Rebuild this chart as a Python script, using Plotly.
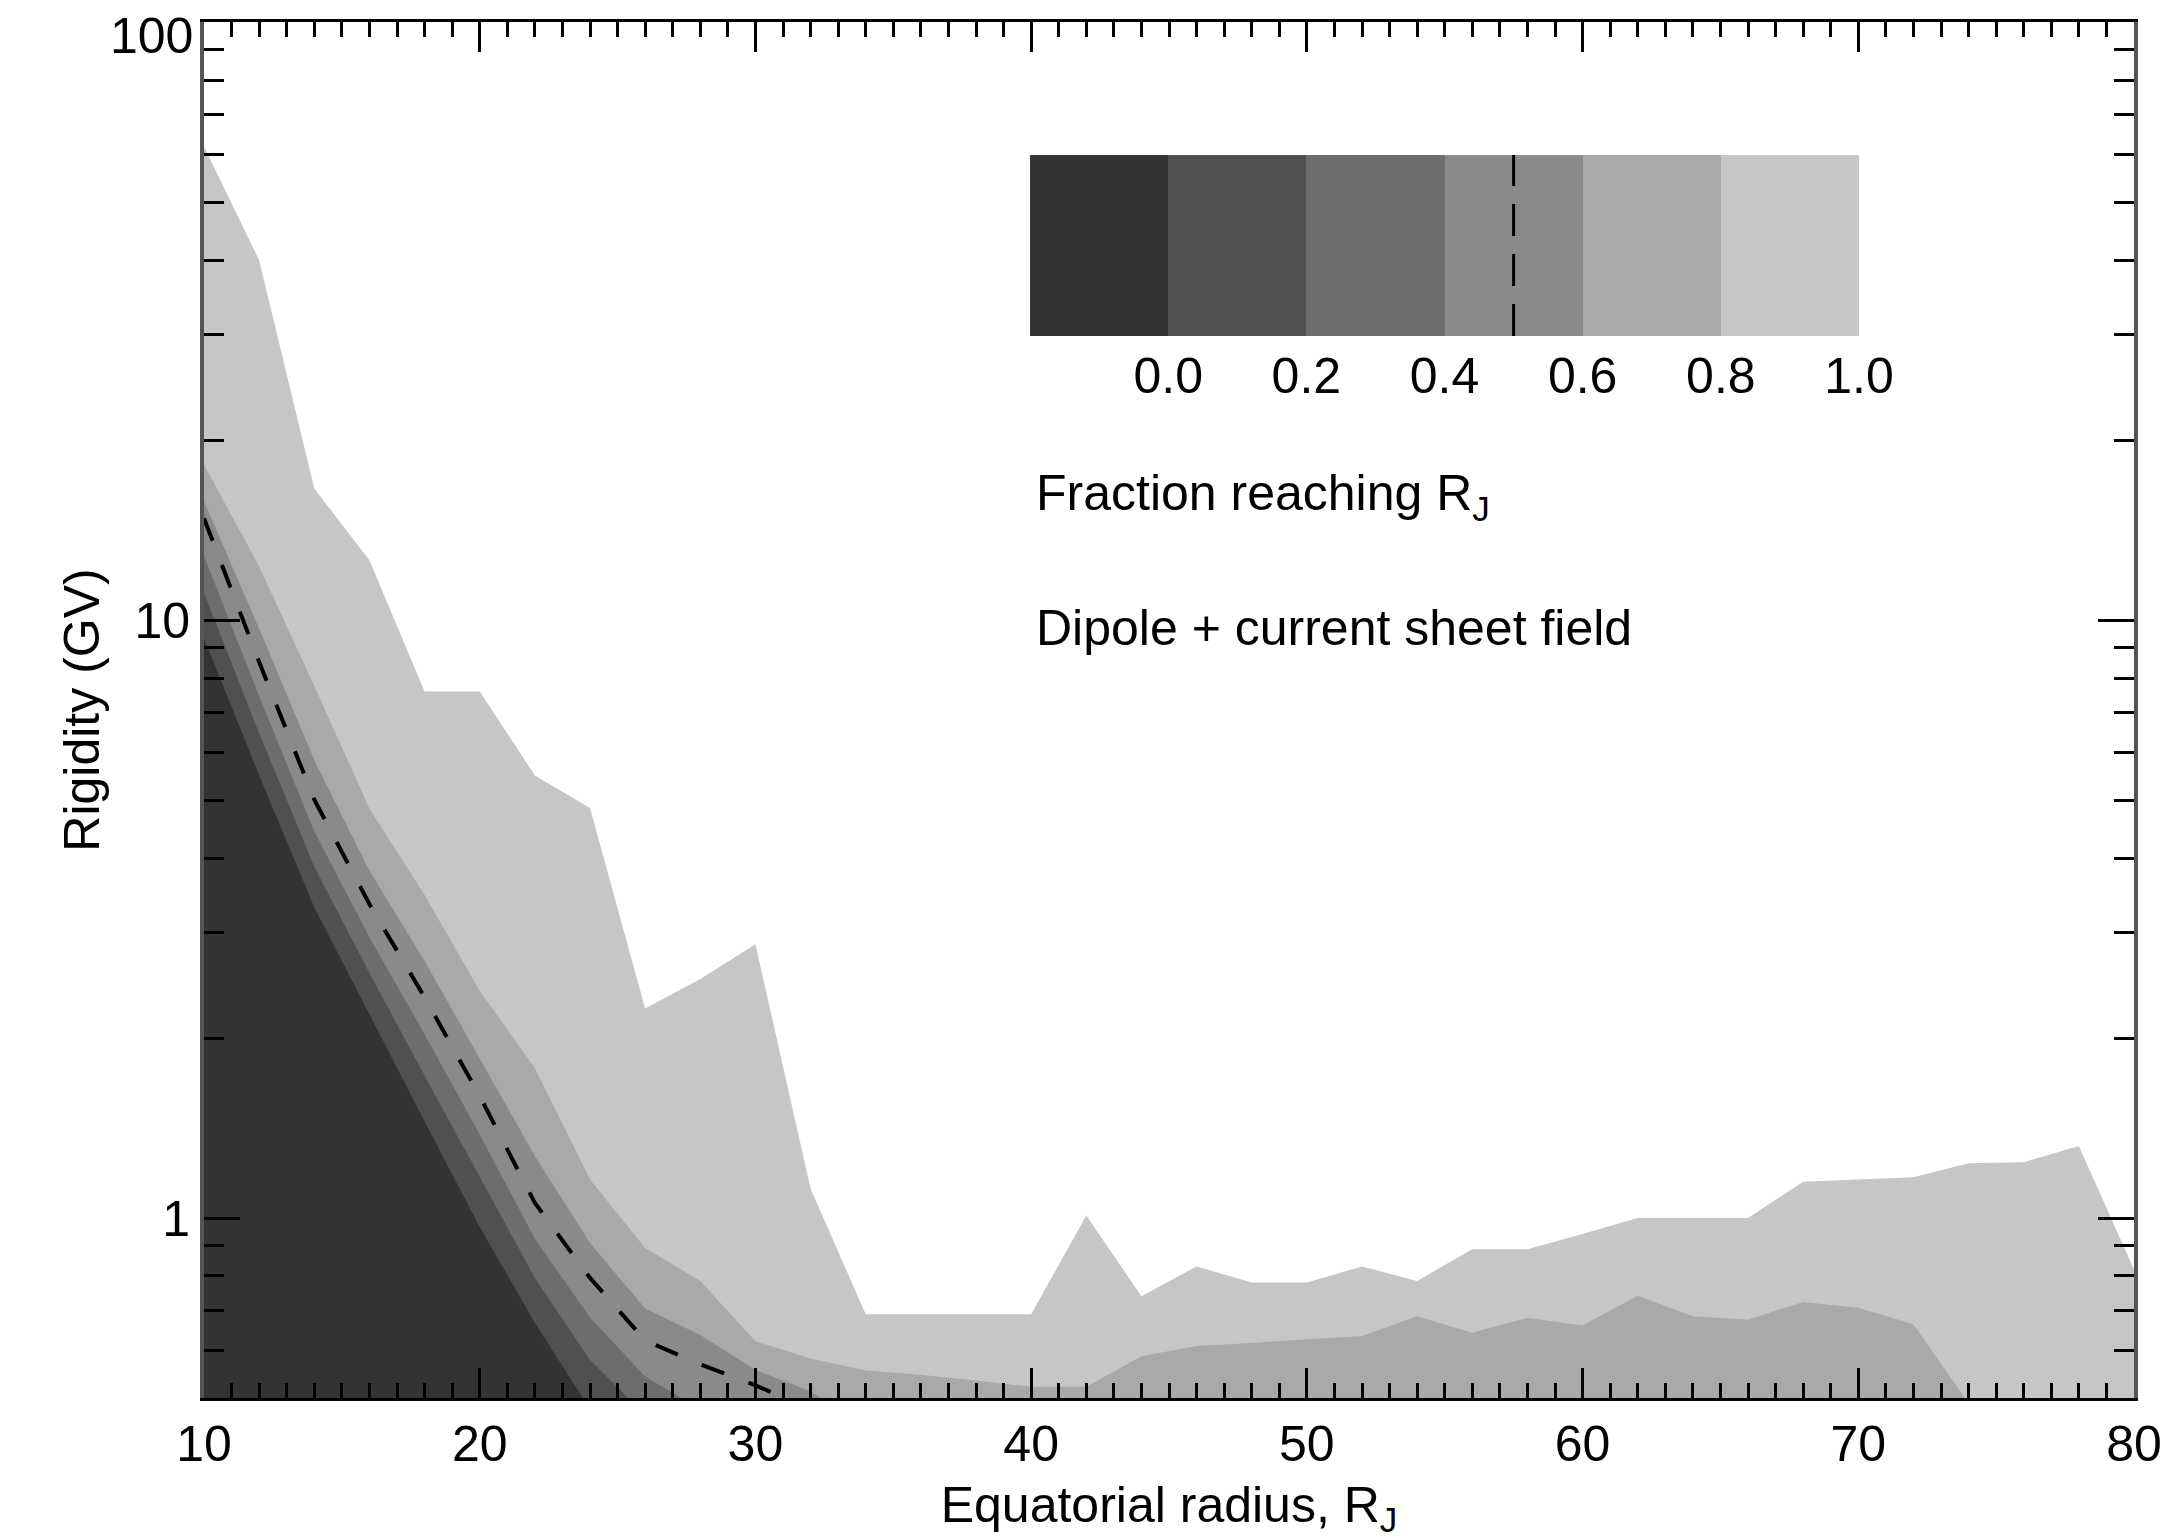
import math
import plotly.graph_objects as go

# ---------------- data ----------------
radius = [10, 12, 14, 16, 18, 20, 22, 24, 26, 28, 30, 32, 34, 36, 38, 40, 42, 44,
          46, 48, 50, 52, 54, 56, 58, 60, 62, 64, 66, 68, 70, 72, 74, 76, 78, 80]

# rigidity (GV) at which the fraction reaching R_J crosses each contour level
edge_100 = [62, 40, 16.6, 12.6, 7.6, 7.6, 5.5, 4.85, 2.24, 2.51, 2.87, 1.12, 0.69, 0.69,
            0.69, 0.69, 1.01, 0.74, 0.83, 0.78, 0.78, 0.83, 0.785, 0.887, 0.887, 0.94,
            1.0, 1.0, 1.0, 1.15, 1.16, 1.17, 1.235, 1.24, 1.32, 0.82]
edge_080 = [18.2, 12.3, 7.76, 4.84, 3.47, 2.40, 1.78, 1.16, 0.891, 0.785, 0.622, 0.582,
            0.556, 0.547, 0.535, 0.522, 0.522, 0.587, 0.611, 0.618, 0.627, 0.635, 0.685,
            0.643, 0.681, 0.661, 0.741, 0.685, 0.676, 0.724, 0.708, 0.664, 0.49, 0.45,
            0.45, 0.45]
edge_060 = [15.8, 9.68, 5.83, 3.81, 2.69, 1.85, 1.27, 0.908, 0.706, 0.637, 0.557, 0.513,
            0.447, 0.4, 0.4, 0.4, 0.4, 0.4, 0.4, 0.4, 0.4, 0.4, 0.4, 0.4, 0.4, 0.4, 0.4,
            0.4, 0.4, 0.4, 0.4, 0.4, 0.4, 0.4, 0.4, 0.4]
edge_040 = [12.8, 7.46, 4.43, 2.95, 2.03, 1.38, 0.923, 0.682, 0.543, 0.479, 0.4, 0.4,
            0.4, 0.4, 0.4, 0.4, 0.4, 0.4, 0.4, 0.4, 0.4, 0.4, 0.4, 0.4, 0.4, 0.4, 0.4,
            0.4, 0.4, 0.4, 0.4, 0.4, 0.4, 0.4, 0.4, 0.4]
edge_020 = [11.1, 6.47, 3.87, 2.57, 1.73, 1.17, 0.794, 0.579, 0.468, 0.4, 0.4, 0.4,
            0.4, 0.4, 0.4, 0.4, 0.4, 0.4, 0.4, 0.4, 0.4, 0.4, 0.4, 0.4, 0.4, 0.4, 0.4,
            0.4, 0.4, 0.4, 0.4, 0.4, 0.4, 0.4, 0.4, 0.4]
edge_000 = [9.33, 5.50, 3.31, 2.19, 1.45, 0.966, 0.668, 0.479, 0.4, 0.4, 0.4, 0.4,
            0.4, 0.4, 0.4, 0.4, 0.4, 0.4, 0.4, 0.4, 0.4, 0.4, 0.4, 0.4, 0.4, 0.4, 0.4,
            0.4, 0.4, 0.4, 0.4, 0.4, 0.4, 0.4, 0.4, 0.4]

# 50 % contour (dashed)
half_radius = [10, 12, 14, 16, 18, 20, 22, 24, 26, 28, 30, 32]
half_rigidity = [14.8, 8.51, 5.01, 3.35, 2.34, 1.60, 1.06, 0.794, 0.624, 0.569, 0.525, 0.479]

levels = [0.0, 0.2, 0.4, 0.6, 0.8, 1.0]
level_labels = ["0.0", "0.2", "0.4", "0.6", "0.8", "1.0"]
dash_level = 0.5

x_ticks = [10, 20, 30, 40, 50, 60, 70, 80]
y_ticks = [1, 10, 100]
y_tick_labels = ["1", "10", "100"]
y_minor = [0.5, 0.6, 0.7, 0.8, 0.9, 2, 3, 4, 5, 6, 7, 8, 9, 20, 30, 40, 50, 60, 70, 80, 90]

# ---------------- styling ----------------
band_colors = ["#333333", "#505050", "#6d6d6d", "#8a8a8a", "#a9a9a9", "#c6c6c6"]
FONT = "Liberation Sans, Arial, Helvetica, sans-serif"
FS = 50
BASE = 0.1   # floor used to close the filled areas (below the visible range)
Y_TOP = 100

fig = go.Figure()

edges = [edge_000, edge_020, edge_040, edge_060, edge_080, edge_100]
# draw from the lightest (largest) region to the darkest, each filled down to the floor
for edge, col in reversed(list(zip(edges, band_colors))):
    xs = radius + [radius[-1], radius[0]]
    ys = edge + [BASE, BASE]
    fig.add_trace(go.Scatter(x=xs, y=ys, mode="lines", fill="toself", fillcolor=col,
                             line=dict(width=0, color=col), hoverinfo="skip",
                             showlegend=False))

fig.add_trace(go.Scatter(x=half_radius, y=half_rigidity, mode="lines",
                         line=dict(color="black", width=4, dash="24px,26px"),
                         hoverinfo="skip", showlegend=False))

# ---------------- inset colour key ----------------
n = len(levels)
cscale = []
for i, c in enumerate(band_colors):
    cscale.append([i / n, c])
    cscale.append([(i + 1) / n, c])
fig.add_trace(go.Heatmap(x=[lv - 0.1 for lv in levels], y=[0.5], z=[list(range(n))],
                         colorscale=cscale, zmin=-0.5, zmax=n - 0.5, showscale=False,
                         xaxis="x2", yaxis="y2", hoverinfo="skip"))
fig.add_trace(go.Scatter(x=[dash_level, dash_level], y=[0, 1], mode="lines",
                         line=dict(color="black", width=3, dash="32px,18px"),
                         xaxis="x2", yaxis="y2", hoverinfo="skip", showlegend=False))

# the top tick label ("100") sits just below the frame corner as in the reference
shown_labels = [t if v != Y_TOP else "" for v, t in zip(y_ticks, y_tick_labels)]
top_label = y_tick_labels[y_ticks.index(Y_TOP)]

fig.update_layout(
    width=2166, height=1539,
    margin=dict(l=204, r=32, t=22, b=141, autoexpand=False),
    paper_bgcolor="white", plot_bgcolor="white",
    font=dict(family=FONT, size=FS, color="black"),
    showlegend=False,
    xaxis=dict(
        range=[10, 80], tickvals=x_ticks, ticks="inside", ticklen=30, tickwidth=2.5,
        tickcolor="black", showline=True, linecolor="black", linewidth=3,
        mirror="ticks", showgrid=False, zeroline=False, ticklabeloverflow="allow",
        automargin=False,
        minor=dict(dtick=1, tick0=10, ticks="inside", ticklen=15, tickwidth=2.5,
                   tickcolor="black", showgrid=False),
        title=dict(text="Equatorial radius, R<sub>J</sub>", standoff=22,
                   font=dict(size=FS)),
        tickfont=dict(size=FS),
    ),
    yaxis=dict(
        type="log", range=[math.log10(0.5), 2.0005], tickvals=y_ticks,
        ticktext=shown_labels, ticklabeloverflow="allow", automargin=False,
        ticks="inside", ticklen=36, tickwidth=2.5, tickcolor="black", showline=True,
        linecolor="#555555", linewidth=4, mirror="ticks", showgrid=False, zeroline=False,
        minor=dict(tickvals=y_minor, ticks="inside", ticklen=20, tickwidth=2.5,
                   tickcolor="black", showgrid=False),
        title=dict(text="Rigidity (GV)", standoff=20, font=dict(size=FS)),
        tickfont=dict(size=FS),
    ),
    xaxis2=dict(domain=[0.428, 0.8575], anchor="y2", range=[-0.2, 1.0],
                tickvals=levels, ticktext=level_labels, ticks="", showline=False,
                showgrid=False, zeroline=False, tickfont=dict(size=FS),
                ticklabelstandoff=6, automargin=False),
    yaxis2=dict(domain=[0.7718, 0.9033], anchor="x2", range=[0, 1], visible=False),
    annotations=[
        dict(text=top_label, xref="paper", yref="y", x=0, y=math.log10(Y_TOP),
             xanchor="right", yanchor="middle", xshift=-9, yshift=-14,
             showarrow=False, font=dict(size=FS)),
        dict(text="Fraction reaching R<sub>J</sub>", xref="paper", yref="paper",
             x=0.430, y=0.655, xanchor="left", yanchor="middle", showarrow=False,
             font=dict(size=FS)),
        dict(text="Dipole + current sheet field", xref="paper", yref="paper",
             x=0.430, y=0.5596, xanchor="left", yanchor="middle", showarrow=False,
             font=dict(size=FS)),
    ],
)

fig.write_html("out.html")
